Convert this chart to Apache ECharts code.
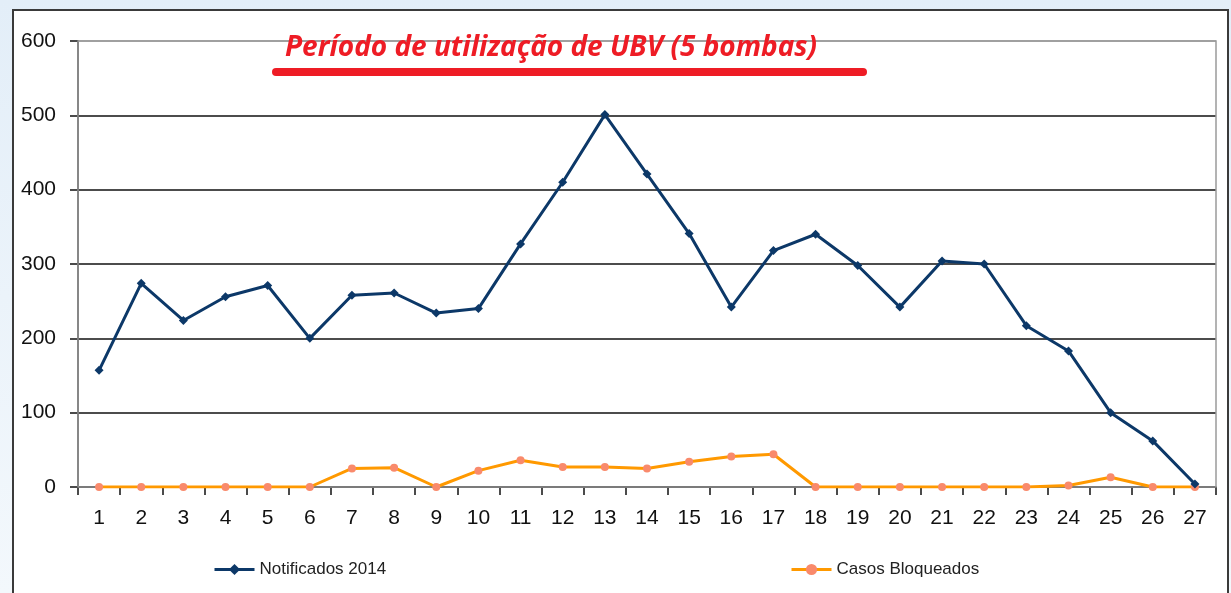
<!DOCTYPE html>
<html>
<head>
<meta charset="utf-8">
<script src="https://cdn.jsdelivr.net/npm/echarts@6/dist/echarts.min.js"></script>
<style>
  html, body { margin: 0; padding: 0; }
  body { background: linear-gradient(to bottom, #e3eef8, #f3f8fc); }
  #chart { width: 1231px; height: 593px; }
</style>
</head>
<body>
<div id="chart"></div>
<script>
// semanas epidemiologicas
var semanas = ['1','2','3','4','5','6','7','8','9','10','11','12','13','14','15','16','17','18','19','20','21','22','23','24','25','26','27']
var notificados = [157, 274, 224, 256, 271, 200, 258, 261, 234, 240, 327, 410, 501, 421, 341, 242, 318, 340, 298, 242, 304, 300, 217, 183, 100, 62, 4]
var bloqueados = [0, 0, 0, 0, 0, 0, 25, 26, 0, 22, 36, 27, 27, 25, 34, 41, 44, 0, 0, 0, 0, 0, 0, 2, 13, 0, 0]
var yTicks = [0, 100, 200, 300, 400, 500, 600]

var chart = echarts.init(document.getElementById('chart'), null, {renderer: 'canvas'})

var option = {
  backgroundColor: 'transparent',
  animation: false,
  textStyle: { fontFamily: 'Liberation Sans, Arial, sans-serif' },
  graphic: [
    {
      type: 'rect', z: 0, silent: true,
      shape: { x: 13, y: 10, width: 1215, height: 600 },
      style: { fill: '#fff', stroke: '#3a3a3a', lineWidth: 2 }
    },
    {
      type: 'line', z: 10,
      shape: { x1: 276, y1: 72, x2: 863, y2: 72 },
      style: { stroke: '#ee1c25', lineWidth: 8, lineCap: 'round' }
    },
    {
      type: 'text', z: 10, left: 285, top: 34,
      style: {
        text: 'Período de utilização de UBV (5 bombas)',
        fill: '#ee1c25',
        font: 'italic bold 28px "Open Sans", sans-serif'
      }
    }
  ],
  grid: {
    left: 78, right: 15, top: 41, bottom: 106,
    show: true, borderColor: '#9a9a9a', borderWidth: 1.5, z: 1
  },
  legend: [
    {
      data: ['Notificados 2014'], left: 208, top: 556,
      itemWidth: 40, itemHeight: 14, itemGap: 5,
      lineStyle: { width: 3 },
      textStyle: { fontSize: 17, color: '#222' }
    },
    {
      data: ['Casos Bloqueados'], left: 785, top: 556,
      itemWidth: 40, itemHeight: 14, itemGap: 5,
      lineStyle: { width: 3 },
      textStyle: { fontSize: 17, color: '#222' }
    }
  ],
  xAxis: {
    type: 'category',
    data: semanas,
    boundaryGap: true,
    axisLine: { lineStyle: { color: '#111', width: 1.5 } },
    axisTick: { show: true, length: 8, lineStyle: { color: '#111', width: 1.5 } },
    axisLabel: { fontSize: 21, color: '#111', margin: 21 }
  },
  yAxis: {
    type: 'value',
    min: yTicks[0], max: yTicks[yTicks.length - 1], interval: 100,
    axisLine: { show: true, lineStyle: { color: '#111', width: 1.5 } },
    axisTick: { show: true, length: 8, lineStyle: { color: '#111', width: 1.5 } },
    axisLabel: { fontSize: 21, color: '#111', margin: 22 },
    splitLine: { lineStyle: { color: ['#111', '#111', '#111', '#111', '#111', '#111', '#9a9a9a'], width: 1.5 } }
  },
  series: [
    {
      name: 'Notificados 2014',
      type: 'line',
      data: notificados,
      symbol: 'diamond',
      symbolSize: 9,
      lineStyle: { color: '#0c3868', width: 3 },
      itemStyle: { color: '#0c3868' },
      z: 3
    },
    {
      name: 'Casos Bloqueados',
      type: 'line',
      data: bloqueados,
      symbol: 'circle',
      symbolSize: 8,
      lineStyle: { color: '#ff9900', width: 3 },
      itemStyle: { color: '#f98a6c' },
      z: 2
    }
  ]
}

chart.setOption(option)
</script>
</body>
</html>
